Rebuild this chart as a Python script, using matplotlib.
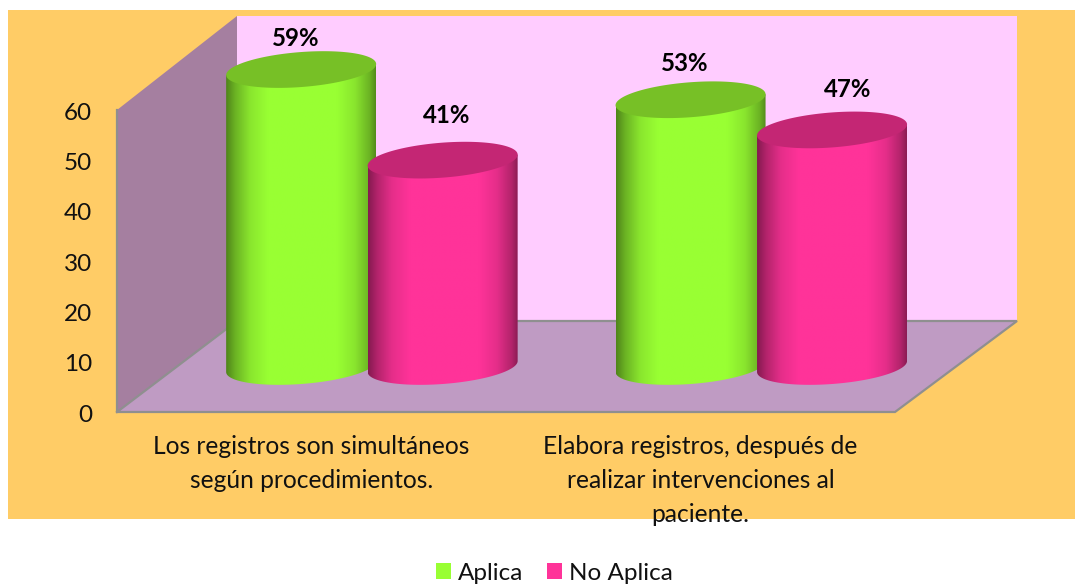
import numpy as np
import matplotlib
matplotlib.use("Agg")
import matplotlib.pyplot as plt
from matplotlib.colors import LinearSegmentedColormap, to_rgb
from matplotlib.patches import Patch, Polygon, Rectangle
from matplotlib.transforms import ScaledTranslation

plt.rcParams['font.family'] = ['Lato', 'DejaVu Sans']

categories = ["Los registros son simultáneos\nsegún procedimientos.",
              "Elabora registros, después de\nrealizar intervenciones al\npaciente."]
series_names = ["Aplica", "No Aplica"]
aplica = [59, 53]
no_aplica = [41, 47]
y_ticks = [0, 10, 20, 30, 40, 50, 60]

W, H = 1075, 584
fig = plt.figure(figsize=(W / 100, H / 100), dpi=100, facecolor="white")
fig.patches.append(Rectangle((8 / W, 1 - 519 / H), (W - 8) / W, 509 / H,
                             transform=fig.transFigure, facecolor="#FFCC66",
                             edgecolor="none", zorder=-10))
L, R, T, B = 117, 895, 110, 412
ax = fig.add_axes([L / W, 1 - B / H, (R - L) / W, (B - T) / H])
ax.patch.set_visible(False)
for s in ax.spines.values():
    s.set_visible(False)

UX = (R - L) / 2
UY = (B - T) / 60
DX, DY = 120 / UX, 91 / UY     # depth of the 3D box
WALL_UP = 3 / UY                # back wall rises slightly above the 60 plane
RIGHT_EXTRA = 2 / UX

grey = "#8F8F8F"
# back wall
ax.add_patch(Polygon([(DX, DY), (2 + DX + RIGHT_EXTRA, DY), (2 + DX + RIGHT_EXTRA, 60 + DY + WALL_UP),
                      (DX, 60 + DY + WALL_UP)],
                     closed=True, fc="#FFCCFF", ec="none", clip_on=False, zorder=1))
# left wall
ax.add_patch(Polygon([(0, 0), (DX, DY), (DX, 60 + DY + WALL_UP), (0, 60)],
                     closed=True, fc="#A57FA0", ec="none", clip_on=False, zorder=2))
# floor
ax.add_patch(Polygon([(0, 0), (2, 0), (2 + DX + RIGHT_EXTRA, DY), (DX, DY)],
                     closed=True, fc="#BF9BC3", ec="none", clip_on=False, zorder=2))
ax.plot([0, 0, 2, 2 + DX + RIGHT_EXTRA, DX, 0], [60, 0, 0, DY, DY, 0], color=grey, lw=1.6,
        clip_on=False, zorder=3, solid_joinstyle="miter")

A_PX, B_PX, S_PX = 75, 17.5, 5.5
OFF_PX = 70.75
LIFT = 45.5 / UY
t_full = np.linspace(0, 2 * np.pi, 200)
t_low = np.linspace(np.pi, 2 * np.pi, 100)


def rim(cx, cy, t):
    xs = cx + A_PX * np.cos(t) / UX
    ys = cy + (S_PX * np.cos(t) + B_PX * np.sin(t)) / UY
    return np.column_stack([xs, ys])


def shade(color):
    c = np.array(to_rgb(color))
    stops = [(0, .52), (.06, .70), (.16, .90), (.28, 1), (.74, 1), (.86, .90), (.96, .70), (1, .55)]
    return LinearSegmentedColormap.from_list("s", [(p, tuple(c * v)) for p, v in stops])


def cylinder(x_center, value, body, cap, z):
    base = LIFT
    tip = LIFT + value
    x0, x1 = x_center - A_PX / UX, x_center + A_PX / UX
    im = ax.imshow(np.linspace(0, 1, 256).reshape(1, -1), cmap=shade(body), aspect="auto",
                   extent=(x0, x1, base - 20 / UY, tip + 10 / UY), zorder=z, interpolation="bilinear")
    outline = np.vstack([rim(x_center, base, t_low), rim(x_center, tip, np.array([0.0, np.pi]))])
    clip = Polygon(outline, closed=True, transform=ax.transData, fc="none", ec="none")
    im.set_clip_box(fig.bbox)
    im.set_clip_path(clip)
    ax.add_patch(Polygon(rim(x_center, tip, t_full), closed=True, fc=cap, ec="none",
                         clip_on=False, zorder=z + .1))


GREEN, PINK = "#99FF33", "#FF3399"
label_px = {0: [(-5, 31), (3.5, 44.5)], 1: [(-6, 36), (15.5, 40.5)]}
for i in range(2):
    group = i + .5 + DX / 2 + (0.8 / UX if i else 0.4 / UX)
    xa, xb = group - OFF_PX / UX, group + OFF_PX / UX
    cylinder(xa, aplica[i], GREEN, "#77C026", 4 + i * 2)
    cylinder(xb, no_aplica[i], PINK, "#C42674", 5 + i * 2)
    for xc, v, (ox, oy) in zip((xa, xb), (aplica[i], no_aplica[i]), label_px[i]):
        ax.annotate(f"{v}%", (xc, LIFT + v), xytext=(ox * .72, oy * .72), textcoords="offset points",
                    ha="center", va="center", fontsize=17.3, fontweight="bold",
                    color="black", zorder=20, annotation_clip=False)

ax.set_xlim(0, 2)
ax.set_ylim(0, 60)
ax.set_yticks(y_ticks)
ax.set_xticks([.5, 1.5])
ax.set_xticklabels(categories, linespacing=1.58, fontsize=17.7, color="#111111")
ax.tick_params(axis="y", length=0, pad=18, labelsize=17.5, labelcolor="#111111")
ax.tick_params(axis="x", length=0, pad=16.5)
shift = ScaledTranslation(0, -1.2 / 100, fig.dpi_scale_trans)
for lab in ax.get_yticklabels():
    lab.set_transform(lab.get_transform() + shift)

handles = [Patch(fc=GREEN, ec="none"), Patch(fc=PINK, ec="none")]
fig.legend(handles, series_names, loc="center", bbox_to_anchor=(554.5 / W, 1 - 573 / H), ncol=2,
           frameon=False, fontsize=17.5, handlelength=.62, handleheight=.62, handletextpad=.27,
           columnspacing=1.0, labelcolor="#111111", borderpad=0, borderaxespad=0)

fig.savefig("out.png", dpi=100, facecolor="white")
